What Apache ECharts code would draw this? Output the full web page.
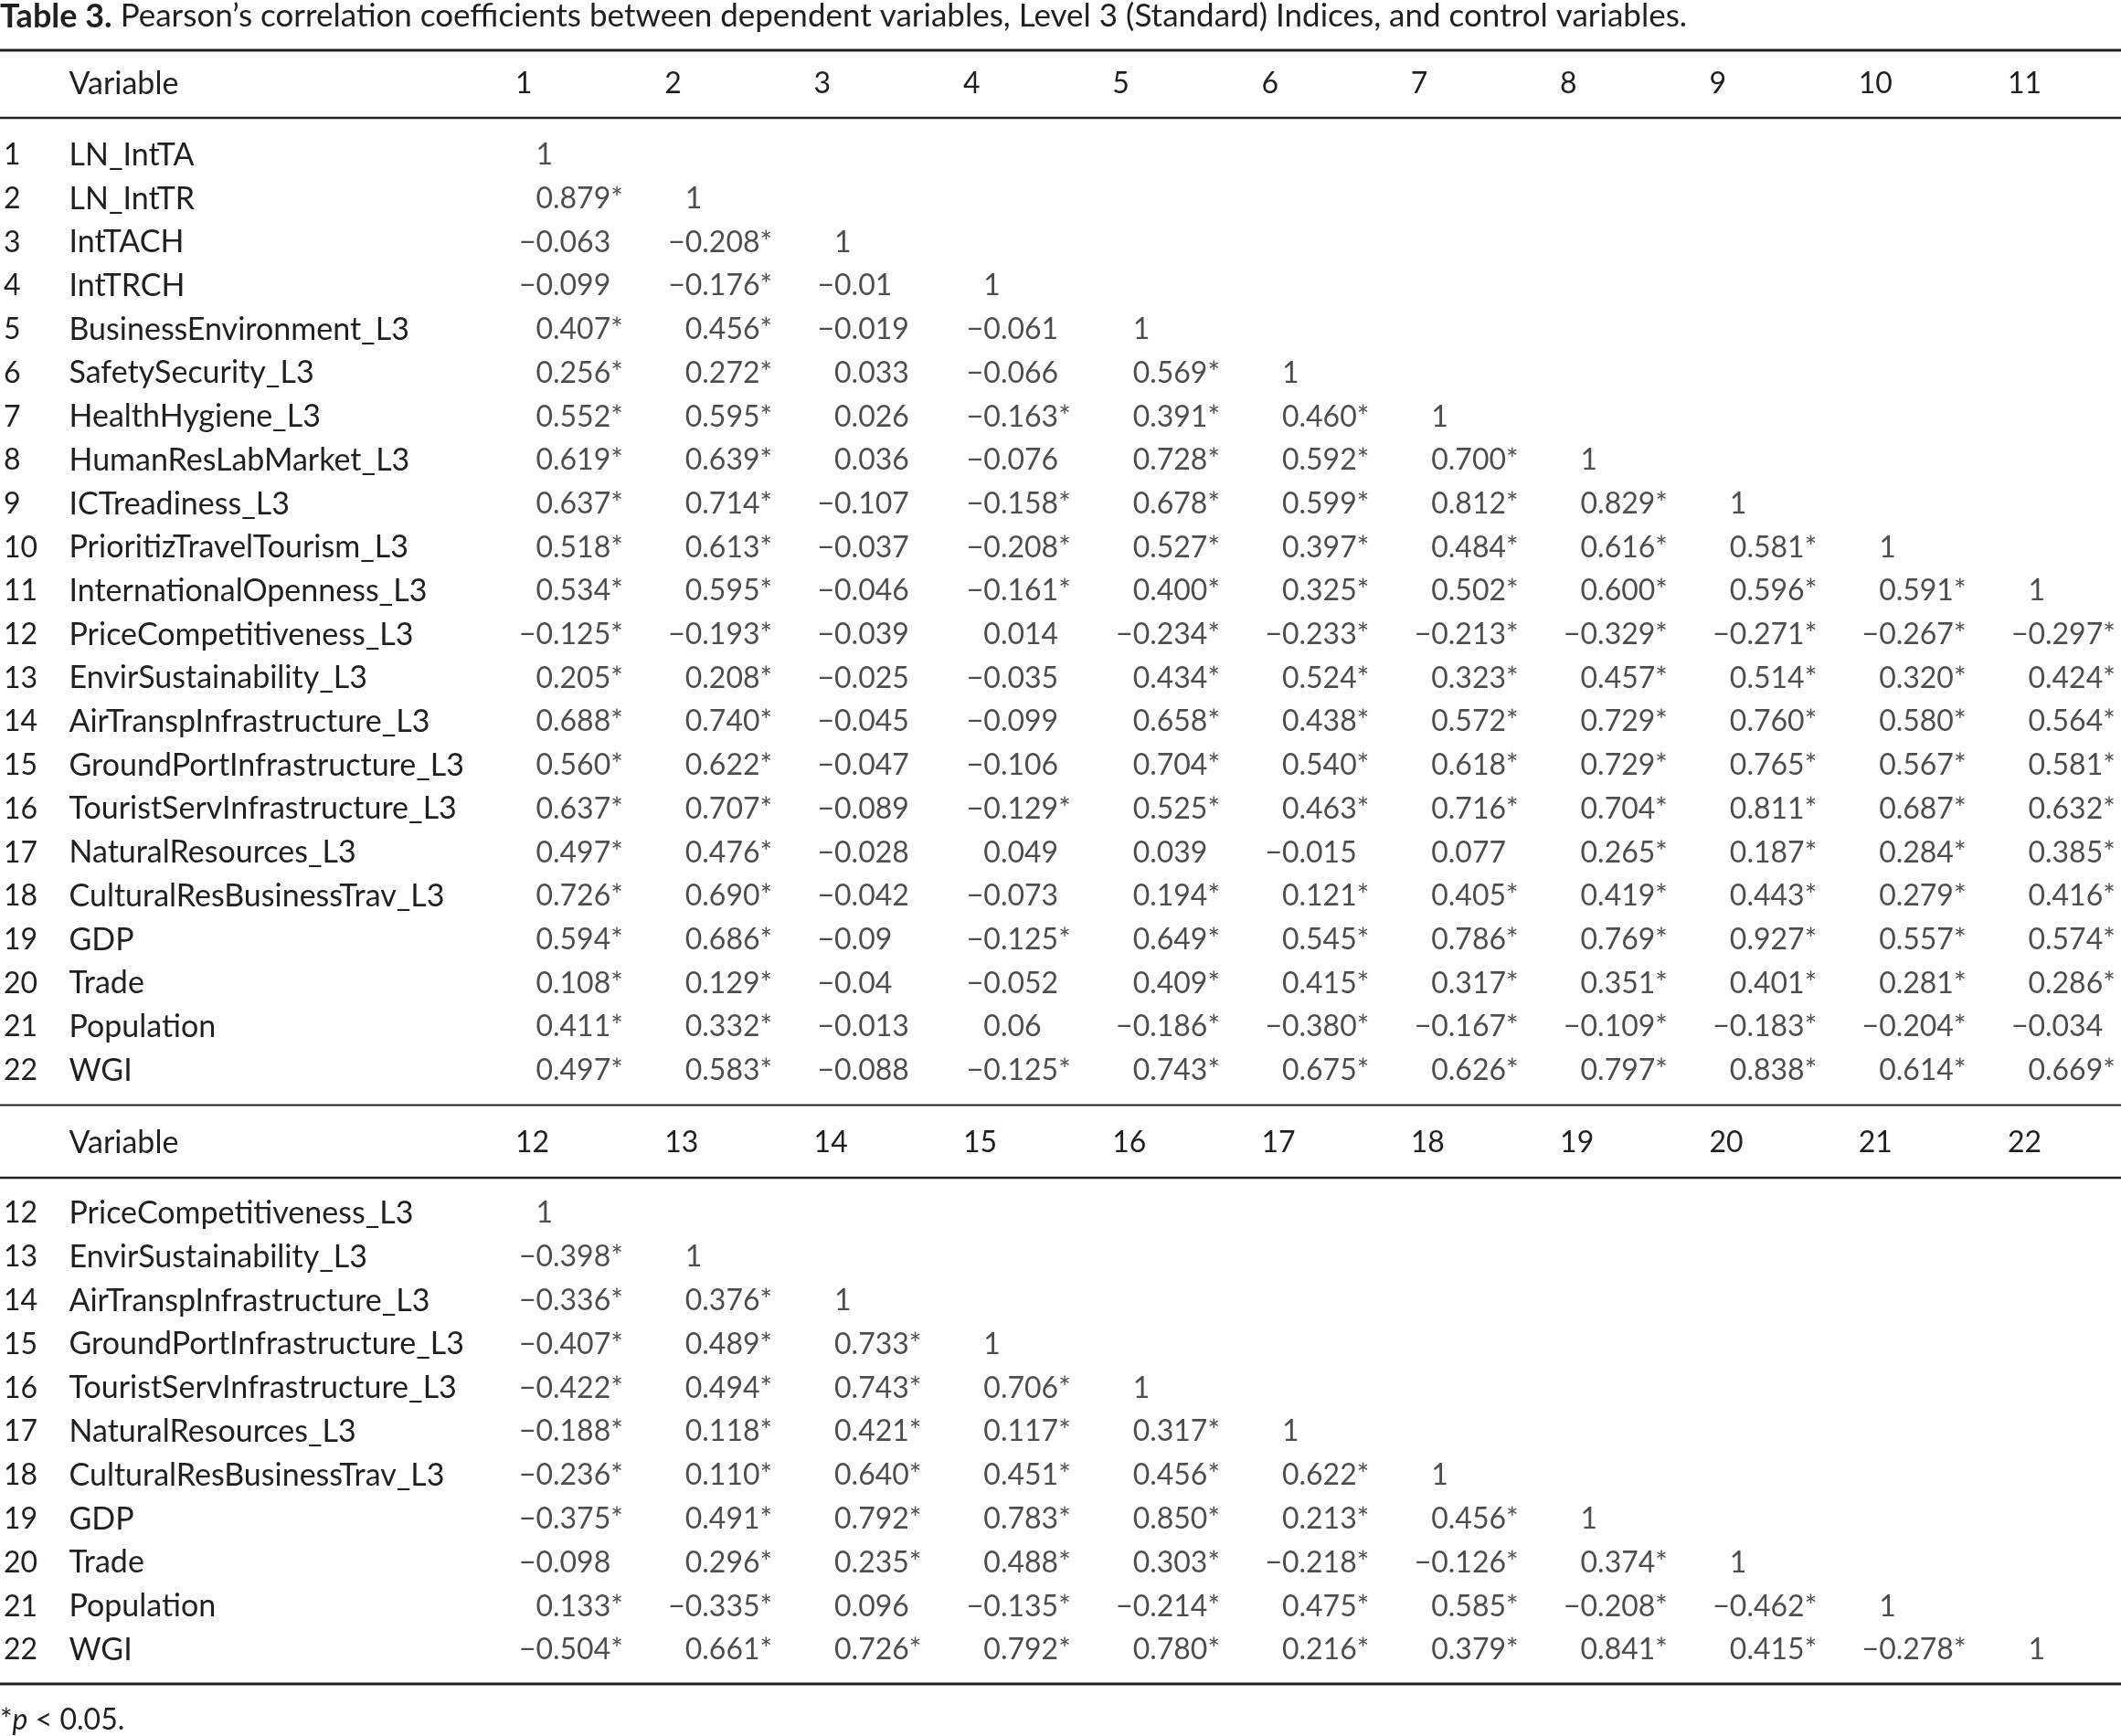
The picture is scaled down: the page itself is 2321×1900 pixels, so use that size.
<!DOCTYPE html>
<html>
<head>
<meta charset="utf-8">
<script src="https://cdn.jsdelivr.net/npm/echarts@6/dist/echarts.min.js"></script>
<style>
  html, body { margin: 0; padding: 0; background: #ffffff; }
  #chart { width: 2321px; height: 1900px; }
</style>
</head>
<body>
<div id="chart"></div>
<script>
// ---------------- data ----------------
const tableTitle = 'Pearson\u2019s correlation coefficients between dependent variables, Level 3 (Standard) Indices, and control variables.';
const tableLabel = 'Table 3.';
const headerLabel = 'Variable';

const rowNames = [
  'LN_IntTA', 'LN_IntTR', 'IntTACH', 'IntTRCH', 'BusinessEnvironment_L3',
  'SafetySecurity_L3', 'HealthHygiene_L3', 'HumanResLabMarket_L3', 'ICTreadiness_L3',
  'PrioritizTravelTourism_L3', 'InternationalOpenness_L3', 'PriceCompetitiveness_L3',
  'EnvirSustainability_L3', 'AirTranspInfrastructure_L3', 'GroundPortInfrastructure_L3',
  'TouristServInfrastructure_L3', 'NaturalResources_L3', 'CulturalResBusinessTrav_L3',
  'GDP', 'Trade', 'Population', 'WGI'
];

const topColumns = ['1','2','3','4','5','6','7','8','9','10','11'];
const bottomColumns = ['12','13','14','15','16','17','18','19','20','21','22'];

// rows 1..22 against columns 1..11
const topCorr = [
  ['1'],
  ['0.879*','1'],
  ['-0.063','-0.208*','1'],
  ['-0.099','-0.176*','-0.01','1'],
  ['0.407*','0.456*','-0.019','-0.061','1'],
  ['0.256*','0.272*','0.033','-0.066','0.569*','1'],
  ['0.552*','0.595*','0.026','-0.163*','0.391*','0.460*','1'],
  ['0.619*','0.639*','0.036','-0.076','0.728*','0.592*','0.700*','1'],
  ['0.637*','0.714*','-0.107','-0.158*','0.678*','0.599*','0.812*','0.829*','1'],
  ['0.518*','0.613*','-0.037','-0.208*','0.527*','0.397*','0.484*','0.616*','0.581*','1'],
  ['0.534*','0.595*','-0.046','-0.161*','0.400*','0.325*','0.502*','0.600*','0.596*','0.591*','1'],
  ['-0.125*','-0.193*','-0.039','0.014','-0.234*','-0.233*','-0.213*','-0.329*','-0.271*','-0.267*','-0.297*'],
  ['0.205*','0.208*','-0.025','-0.035','0.434*','0.524*','0.323*','0.457*','0.514*','0.320*','0.424*'],
  ['0.688*','0.740*','-0.045','-0.099','0.658*','0.438*','0.572*','0.729*','0.760*','0.580*','0.564*'],
  ['0.560*','0.622*','-0.047','-0.106','0.704*','0.540*','0.618*','0.729*','0.765*','0.567*','0.581*'],
  ['0.637*','0.707*','-0.089','-0.129*','0.525*','0.463*','0.716*','0.704*','0.811*','0.687*','0.632*'],
  ['0.497*','0.476*','-0.028','0.049','0.039','-0.015','0.077','0.265*','0.187*','0.284*','0.385*'],
  ['0.726*','0.690*','-0.042','-0.073','0.194*','0.121*','0.405*','0.419*','0.443*','0.279*','0.416*'],
  ['0.594*','0.686*','-0.09','-0.125*','0.649*','0.545*','0.786*','0.769*','0.927*','0.557*','0.574*'],
  ['0.108*','0.129*','-0.04','-0.052','0.409*','0.415*','0.317*','0.351*','0.401*','0.281*','0.286*'],
  ['0.411*','0.332*','-0.013','0.06','-0.186*','-0.380*','-0.167*','-0.109*','-0.183*','-0.204*','-0.034'],
  ['0.497*','0.583*','-0.088','-0.125*','0.743*','0.675*','0.626*','0.797*','0.838*','0.614*','0.669*']
];

// rows 12..22 against columns 12..22
const bottomCorr = [
  ['1'],
  ['-0.398*','1'],
  ['-0.336*','0.376*','1'],
  ['-0.407*','0.489*','0.733*','1'],
  ['-0.422*','0.494*','0.743*','0.706*','1'],
  ['-0.188*','0.118*','0.421*','0.117*','0.317*','1'],
  ['-0.236*','0.110*','0.640*','0.451*','0.456*','0.622*','1'],
  ['-0.375*','0.491*','0.792*','0.783*','0.850*','0.213*','0.456*','1'],
  ['-0.098','0.296*','0.235*','0.488*','0.303*','-0.218*','-0.126*','0.374*','1'],
  ['0.133*','-0.335*','0.096','-0.135*','-0.214*','0.475*','0.585*','-0.208*','-0.462*','1'],
  ['-0.504*','0.661*','0.726*','0.792*','0.780*','0.216*','0.379*','0.841*','0.415*','-0.278*','1']
];

const footnote = '*{i|p} < 0.05.';

// ---------------- styling ----------------
const FONT = 'Lato';
const FS = 32;        // numbers
const NAME_FS = 34;   // variable names, header word
const TITLE_FS = 35;
const INK = '#231f20';
const W = 2321;
const GRID_LEFT = 523.35;
const COL_W = 163.3;
const GRID_RIGHT = W - (GRID_LEFT + 11 * COL_W);

const topNames = rowNames;
const bottomNames = rowNames.slice(11);

function toMinus(s) { return s.replace('-', '\u2212'); }
function intPart(s) { return toMinus(s).split('.')[0]; }
function fracPart(s) { const p = s.split('.'); return p.length > 1 ? '.' + p[1] : ''; }

function buildData(corr) {
  const out = [];
  corr.forEach((row, r) => {
    row.forEach((v, c) => out.push({ value: [c, r], name: v }));
  });
  return out;
}

function cellSeries(gridIdx, corr) {
  const data = buildData(corr);
  const base = {
    type: 'scatter', xAxisIndex: gridIdx, yAxisIndex: gridIdx,
    symbolSize: 1, itemStyle: { color: 'rgba(0,0,0,0)' },
    silent: true, clip: false, data: data
  };
  return [
    Object.assign({}, base, {
      label: { show: true, position: 'inside', align: 'right', verticalAlign: 'middle',
        color: INK, fontFamily: FONT, fontSize: FS, formatter: p => intPart(p.name) }
    }),
    Object.assign({}, base, {
      label: { show: true, position: 'inside', align: 'left', verticalAlign: 'middle',
        color: INK, fontFamily: FONT, fontSize: FS, formatter: p => fracPart(p.name) }
    })
  ];
}

function xAxisFor(gridIdx, cols, margin) {
  return {
    type: 'category', gridIndex: gridIdx, data: cols, position: 'top',
    axisLine: { show: false }, axisTick: { show: false }, splitLine: { show: false },
    axisLabel: {
      interval: 0, margin: margin, verticalAlign: 'middle',
      formatter: v => '{h|' + v + '}',
      rich: { h: { width: 82, align: 'left', color: INK, fontFamily: FONT, fontSize: FS } }
    }
  };
}

function yAxisFor(gridIdx, names, startNum) {
  return {
    type: 'category', gridIndex: gridIdx, data: names, inverse: true,
    axisLine: { show: false }, axisTick: { show: false }, splitLine: { show: false },
    axisLabel: {
      interval: 0, margin: 4, align: 'right', verticalAlign: 'middle',
      formatter: (v, i) => '{n|' + (i + startNum) + '}{v|' + v + '}',
      rich: {
        n: { width: 71.5, align: 'left', color: INK, fontFamily: FONT, fontSize: FS },
        v: { width: 443.85, align: 'left', color: INK, fontFamily: FONT, fontSize: NAME_FS }
      }
    }
  };
}

function hline(y, w) {
  return { type: 'line', silent: true, shape: { x1: 0, y1: y, x2: W, y2: y },
    style: { stroke: INK, lineWidth: w } };
}

function txt(x, y, text, size, rich) {
  return { type: 'text', x: x, y: y, silent: true,
    style: { text: text, fill: INK, font: size + 'px ' + FONT, verticalAlign: 'middle', align: 'left', rich: rich || {} } };
}

const chart = echarts.init(document.getElementById('chart'), null, { renderer: 'canvas' });
chart.setOption({
  backgroundColor: '#ffffff',
  animation: false,
  textStyle: { fontFamily: FONT },
  grid: [
    { left: GRID_LEFT, right: GRID_RIGHT, top: 146.15, height: 22 * 47.7, containLabel: false },
    { left: GRID_LEFT, right: GRID_RIGHT, top: 1304.1, height: 11 * 47.8, containLabel: false }
  ],
  xAxis: [ xAxisFor(0, topColumns, 54), xAxisFor(1, bottomColumns, 53) ],
  yAxis: [ yAxisFor(0, topNames, 1), yAxisFor(1, bottomNames, 12) ],
  series: [].concat(cellSeries(0, topCorr), cellSeries(1, bottomCorr)),
  graphic: [
    txt(0, 18, '{b|' + tableLabel + '} ' + tableTitle, TITLE_FS, {
      b: { fontWeight: 'bold', fontFamily: FONT, fontSize: 36, fill: INK, color: INK }
    }),
    hline(55, 3),
    txt(75.5, 92, headerLabel, NAME_FS),
    hline(129, 2.5),
    hline(1209.5, 2),
    txt(75.5, 1251, headerLabel, NAME_FS),
    hline(1289, 2.5),
    hline(1843, 3),
    txt(0, 1883, footnote, FS, {
      i: { fontStyle: 'italic', fontFamily: FONT, fontSize: FS, fill: INK, color: INK }
    })
  ]
});
</script>
</body>
</html>
